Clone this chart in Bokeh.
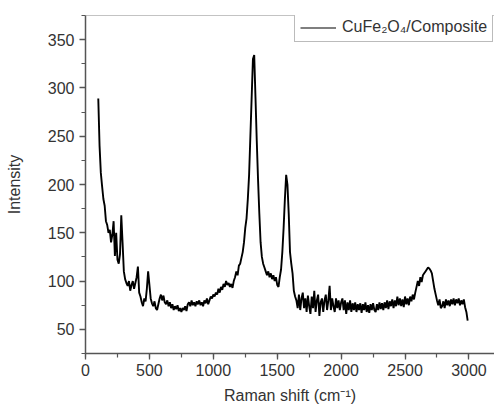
from bokeh.plotting import figure
from bokeh.models import Span, SingleIntervalTicker, Range1d, Legend, LegendItem
from bokeh.embed import file_html
from bokeh.resources import INLINE

# Raman shift grid (cm^-1), 10 cm^-1 step from 100 to 2990
raman_shift = list(range(100, 3000, 10))
intensity = [
    289, 240, 212, 198, 185, 178, 162, 158, 150, 153,   # 100-190
    140, 148, 162, 126, 150, 122, 118, 128, 168, 140,   # 200-290
    110, 102, 98, 95, 100, 90, 96, 100, 92, 98,         # 300-390
    104, 115, 88, 84, 78, 74, 82, 79, 92, 110,          # 400-490
    96, 82, 77, 74, 79, 72, 70, 76, 82, 86,             # 500-590
    80, 85, 78, 76, 80, 74, 78, 72, 76, 70,             # 600-690
    74, 71, 75, 69, 72, 68, 72, 70, 74, 69,             # 700-790
    76, 78, 74, 80, 75, 78, 74, 79, 76, 80,             # 800-890
    75, 78, 74, 80, 77, 82, 76, 80, 84, 82,             # 900-990
    86, 84, 88, 86, 92, 88, 94, 91, 97, 94,             # 1000-1090
    100, 96, 98, 94, 97, 93, 100, 104, 110, 106,        # 1100-1190
    116, 118, 124, 130, 140, 155, 165, 185, 210, 250,   # 1200-1290
    290, 330, 334, 290, 245, 205, 170, 140, 125, 118,   # 1300-1390
    114, 110, 106, 110, 104, 108, 102, 106, 100, 104,   # 1400-1490
    96, 94, 104, 112, 130, 155, 185, 210, 200, 170,     # 1500-1590
    130, 118, 108, 90, 84, 80, 72, 86, 70, 82,          # 1600-1690
    88, 72, 82, 68, 85, 74, 66, 84, 72, 90,             # 1700-1790
    68, 80, 86, 64, 78, 82, 68, 80, 86, 70,             # 1800-1890
    80, 95, 70, 82, 74, 68, 82, 72, 80, 70,             # 1900-1990
    78, 82, 70, 80, 66, 78, 70, 80, 68, 77,             # 2000-2090
    70, 78, 68, 76, 70, 77, 67, 76, 70, 78,             # 2100-2190
    68, 75, 67, 76, 70, 77, 70, 68, 76, 70,             # 2200-2290
    78, 71, 77, 70, 78, 72, 80, 71, 79, 74,             # 2300-2390
    81, 72, 80, 74, 84, 75, 82, 74, 81, 73,             # 2400-2490
    84, 76, 82, 75, 84, 79, 86, 81, 88, 94,             # 2500-2590
    100, 95, 104, 99, 106, 108, 110, 112, 114, 113,     # 2600-2690
    111, 108, 100, 92, 86, 80, 75, 81, 72, 74,          # 2700-2790
    79, 72, 81, 75, 80, 74, 81, 76, 82, 75,             # 2800-2890
    81, 77, 82, 75, 80, 76, 81, 73, 68, 59,             # 2900-2990
]
series_label = "CuFe\u2082O\u2084/Composite"
x_title = "Raman shift (cm\u207b\u00b9)"
y_title = "Intensity"

FONT = "Liberation Sans"
AXC = "#555555"
TXT = "#333333"

p = figure(width=494, height=407, output_backend="svg", toolbar_location=None,
           x_range=Range1d(0, 3200), y_range=Range1d(25, 375),
           min_border_left=85, min_border_right=0, min_border_top=15,
           min_border_bottom=54)
p.outline_line_color = None
p.grid.visible = False
p.background_fill_color = "white"

p.line(raman_shift, intensity, line_color="black", line_width=1.9)
# thin single-point line used only as the legend sample
legend_glyph = p.line(raman_shift[:1], intensity[:1], line_color="black",
                      line_width=1.2)

# top frame line
p.add_layout(Span(location=375, dimension="width", line_color="#888888",
                  line_width=1.2))

for ax in (p.xaxis[0], p.yaxis[0]):
    ax.axis_line_color = AXC
    ax.axis_line_width = 1.5
    ax.major_tick_line_color = AXC
    ax.minor_tick_line_color = AXC
    ax.major_tick_line_width = 1.3
    ax.minor_tick_line_width = 1.2
    ax.major_tick_out = 6
    ax.major_tick_in = 0
    ax.minor_tick_out = 4
    ax.minor_tick_in = 0
    ax.major_label_text_font = FONT
    ax.major_label_text_font_size = "16px"
    ax.major_label_text_color = TXT
    ax.axis_label_text_font = FONT
    ax.axis_label_text_font_size = "16px"
    ax.axis_label_text_font_style = "normal"
    ax.axis_label_text_color = TXT

p.xaxis[0].ticker = SingleIntervalTicker(interval=500, num_minor_ticks=2)
p.yaxis[0].ticker = SingleIntervalTicker(interval=50, num_minor_ticks=2)
p.xaxis[0].axis_label = x_title
p.yaxis[0].axis_label = y_title
p.xaxis[0].major_label_standoff = 4
p.xaxis[0].axis_label_standoff = 8
p.yaxis[0].major_label_standoff = 5
p.yaxis[0].axis_label_standoff = 22

lg = Legend(items=[LegendItem(label=series_label, renderers=[legend_glyph])],
            location=(209, 311))
lg.label_text_font = FONT
lg.label_text_font_size = "16px"
lg.label_text_color = TXT
lg.border_line_color = "#777777"
lg.border_line_width = 1
lg.padding = 5
lg.margin = 0
lg.glyph_width = 36
lg.glyph_height = 17
lg.label_height = 17
lg.label_standoff = 6
lg.background_fill_alpha = 1
p.add_layout(lg)

open("out.html", "w").write(file_html(p, INLINE))
